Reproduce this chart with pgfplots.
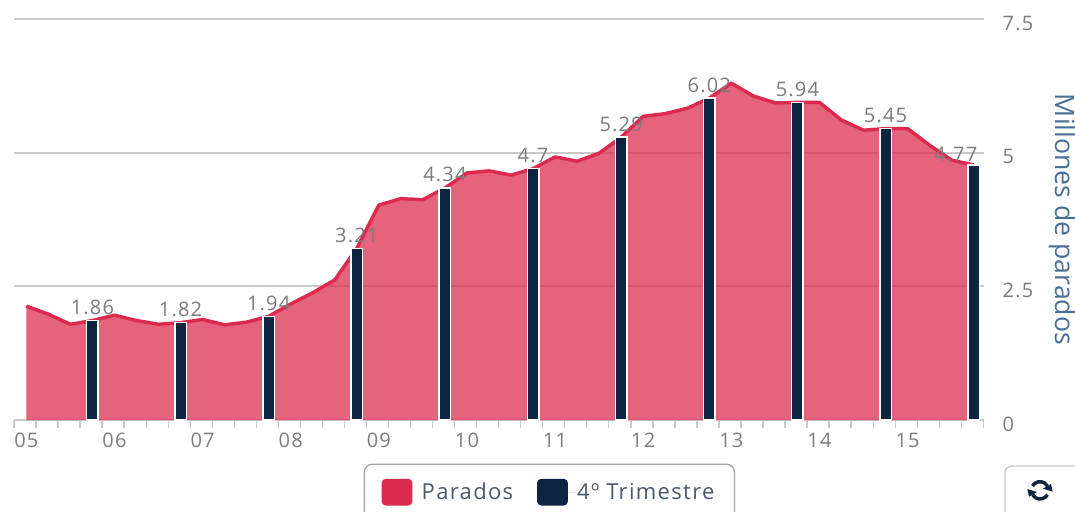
\documentclass[border=0pt]{standalone}
\usepackage{fontspec}
\usepackage{pgfplots}
\pgfplotsset{compat=1.18}
\usetikzlibrary{arrows.meta}
\setmainfont[LetterSpace=6]{Open Sans}
\newfontfamily\labelfont{Open Sans}
\definecolor{areafill}{HTML}{DC2F52}
\definecolor{arealine}{HTML}{DC2A4F}
\definecolor{barblue}{HTML}{0D2540}
\definecolor{gridc}{HTML}{C9C9C9}
\definecolor{txt}{HTML}{7C7C7C}
\definecolor{ylab}{HTML}{4A6F96}
\definecolor{legtxt}{HTML}{4A5A6C}
\begin{document}
\begin{tikzpicture}
\useasboundingbox (0,0) rectangle (806.25pt,383.25pt);
\begin{axis}[
  at={(10.5pt,68.25pt)}, anchor=south west,
  scale only axis, width=727.5pt, height=300.75pt,
  xmin=-0.56, xmax=43.47, ymin=0, ymax=7.5,
  axis y line=right, axis x line=bottom,
  y axis line style={draw=none},
  x axis line style={draw=gridc,line width=1.5pt,-},
  ytick={0,2.5,5,7.5}, yticklabels={0,2.5,5,7.5},
  ymajorgrids, grid style={draw=gridc,line width=1.3pt},
  major y tick style={draw=none},
  yticklabel style={anchor=west,xshift=4.5pt,yshift=-3.2pt,text=txt,font=\fontsize{15}{15}\selectfont},
  xtick={0,4,8,12,16,20,24,28,32,36,40},
  xticklabels={05,06,07,08,09,10,11,12,13,14,15},
  xticklabel style={text=txt,font=\fontsize{15}{15}\selectfont,yshift=-0.4pt},
  major x tick style={draw=none},
  minor xtick={-0.56,0.44,1.44,2.44,3.44,4.44,5.44,6.44,7.44,8.44,9.44,10.44,11.44,12.44,13.44,14.44,15.44,16.44,17.44,18.44,19.44,20.44,21.44,22.44,23.44,24.44,25.44,26.44,27.44,28.44,29.44,30.44,31.44,32.44,33.44,34.44,35.44,36.44,37.44,38.44,39.44,40.44,41.44,42.44,43.44},
  minor x tick style={draw=gridc,line width=1pt},
  tick align=outside, minor tick length=6pt, major tick length=6pt,
  ylabel={\labelfont Millones de parados},
  ylabel style={font=\fontsize{20}{20}\selectfont,text=ylab,rotate=180,at={(axis description cs:1.0805,0.5)},anchor=center},
  clip=false,
  legend style={at={(0.552,-0.18)},anchor=center,draw=gray!70,line width=1pt,rounded corners=6pt,
    legend columns=2,font=\fontsize{16.5}{16.5}\selectfont,text=legtxt,
    inner xsep=13pt,inner ysep=11pt,
    /tikz/every even column/.style={column sep=16pt}},
  legend cell align=left,
]
\addplot[draw=none,fill=areafill,fill opacity=0.75,forget plot] coordinates {
(0,2.13)(1,1.98)(2,1.79)(3,1.86)(4,1.96)(5,1.86)(6,1.79)(7,1.82)(8,1.88)(9,1.78)(10,1.83)(11,1.94)
(12,2.17)(13,2.38)(14,2.62)(15,3.21)(16,4.02)(17,4.14)(18,4.12)(19,4.34)(20,4.62)(21,4.66)(22,4.58)(23,4.70)
(24,4.92)(25,4.84)(26,4.99)(27,5.29)(28,5.68)(29,5.73)(30,5.83)(31,6.02)(32,6.30)(33,6.06)(34,5.93)(35,5.94)
(36,5.94)(37,5.61)(38,5.42)(39,5.45)(40,5.45)(41,5.14)(42,4.86)(43,4.77)} \closedcycle;
\addplot[draw=arealine,line width=2.6pt,line join=round,
  legend image code/.code={\fill[draw=none,fill=arealine,rounded corners=3pt] (0pt,-10pt) rectangle (23pt,10pt);\path[draw=none] (23pt,0) -- (28pt,0);}] coordinates {
(0,2.13)(1,1.98)(2,1.79)(3,1.86)(4,1.96)(5,1.86)(6,1.79)(7,1.82)(8,1.88)(9,1.78)(10,1.83)(11,1.94)
(12,2.17)(13,2.38)(14,2.62)(15,3.21)(16,4.02)(17,4.14)(18,4.12)(19,4.34)(20,4.62)(21,4.66)(22,4.58)(23,4.70)
(24,4.92)(25,4.84)(26,4.99)(27,5.29)(28,5.68)(29,5.73)(30,5.83)(31,6.02)(32,6.30)(33,6.06)(34,5.93)(35,5.94)
(36,5.94)(37,5.61)(38,5.42)(39,5.45)(40,5.45)(41,5.14)(42,4.86)(43,4.77)};
\addlegendentry{Parados}
\addplot[ybar,bar width=8.6pt,fill=barblue,draw=white,line width=1.1pt,
  nodes near coords,
  every node near coord/.append style={text=txt,font=\fontsize{15}{15}\selectfont,yshift=0.5pt,
    /pgf/number format/assume math mode=true,/pgf/number format/precision=2},
  coordinate style/.condition={x>42}{xshift=-13.5pt,yshift=-2pt},
  legend image code/.code={\fill[draw=none,fill=barblue,rounded corners=3pt] (0pt,-10pt) rectangle (23pt,10pt);\path[draw=none] (23pt,0) -- (28pt,0);}] coordinates {
(3,1.86)(7,1.82)(11,1.94)(15,3.21)(19,4.34)(23,4.70)(27,5.29)(31,6.02)(35,5.94)(39,5.45)(43,4.77)};
\addlegendentry{4º Trimestre}
\end{axis}
\draw[draw=gray!45,line width=1pt,rounded corners=5pt] (753.75pt,-10pt) rectangle (815pt,33.75pt);
\begin{scope}[shift={(780pt,15.5pt)},draw=barblue,line width=2.6pt]
\draw (150:6.5pt) arc (150:30:6.5pt);
\draw (-30:6.5pt) arc (-30:-150:6.5pt);
\fill[barblue] (30:9.5pt) -- (9.5pt,-1pt) -- (30:2.5pt) -- cycle;
\fill[barblue] (210:9.5pt) -- (-9.5pt,1pt) -- (210:2.5pt) -- cycle;
\end{scope}
\end{tikzpicture}
\end{document}
